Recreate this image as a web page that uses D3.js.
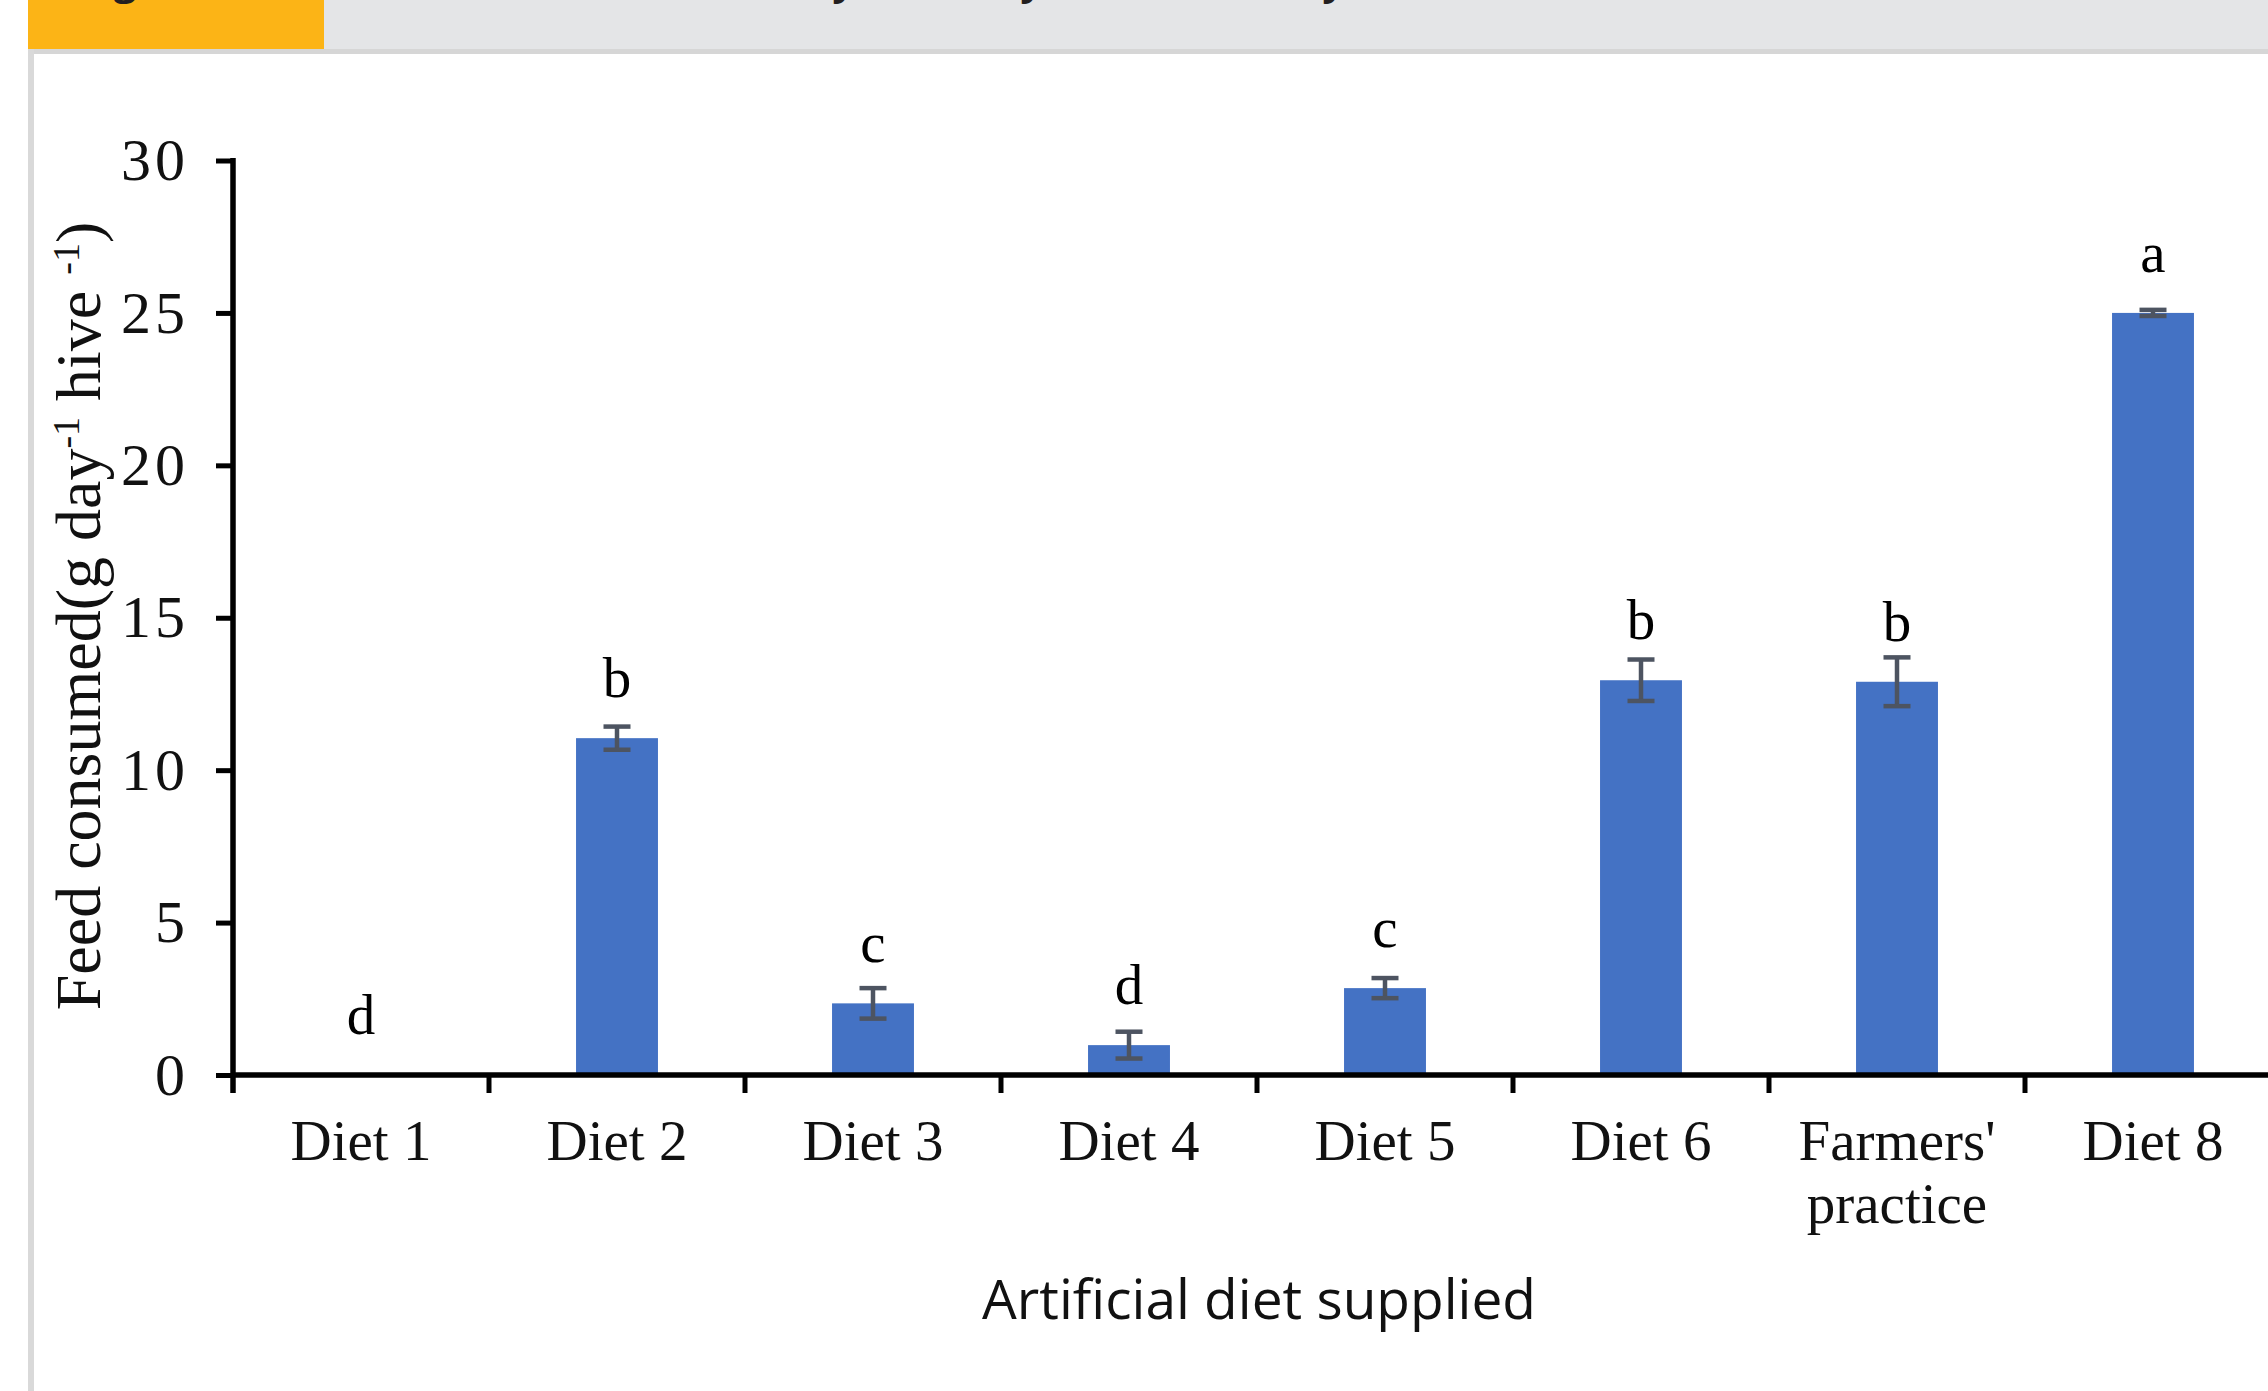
<!DOCTYPE html>
<html>
<head>
<meta charset="utf-8">
<script src="https://cdn.jsdelivr.net/npm/d3@7"></script>
<style>
  body { margin: 0; background: #fff; }
  svg { display: block; }
</style>
</head>
<body>
<div id="visualization"></div>
<script>
const categories = ['Diet 1', 'Diet 2', 'Diet 3', 'Diet 4', 'Diet 5', 'Diet 6', "Farmers' practice", 'Diet 8'];
const values = [0, 11.05, 2.35, 0.98, 2.85, 12.95, 12.9, 25.0];
const errors = [0, 0.38, 0.5, 0.44, 0.33, 0.68, 0.8, 0.1];
const letters = ['d', 'b', 'c', 'd', 'c', 'b', 'b', 'a'];
const yTicks = [0, 5, 10, 15, 20, 25, 30];

const W = 2268, H = 1391;
const serif = '"Liberation Serif", "Times New Roman", serif';

const svg = d3.select('#visualization').append('svg')
    .attr('width', W)
    .attr('height', H);

// page frame: header strip, separator, left border
svg.append('rect').attr('x', 324).attr('y', 0).attr('width', W - 324).attr('height', 49).attr('fill', '#e4e5e7');
svg.append('rect').attr('x', 28).attr('y', 0).attr('width', 296).attr('height', 49).attr('fill', '#fcb416');
svg.append('rect').attr('x', 28).attr('y', 49).attr('width', W - 28).attr('height', 5).attr('fill', '#d6d6d6');
svg.append('rect').attr('x', 28).attr('y', 49).attr('width', 6).attr('height', H - 49).attr('fill', '#d9d9d9');

// header text is cut off at the top in the source, only descenders show
svg.append('text').attr('x', 125).attr('y', -5)
    .attr('text-anchor', 'middle')
    .style('font', 'bold 40px "Open Sans", sans-serif').attr('fill', '#231f20').text('g');
[841, 1029, 1331].forEach(xp => {
    svg.append('text').attr('x', xp + 6).attr('y', -5)
        .attr('text-anchor', 'middle')
        .style('font', 'italic bold 40px "Open Sans", sans-serif').attr('fill', '#231f20').text('y');
});

// scales
const x0 = 233, step = 256;
const xCat = d3.scaleBand()
    .domain(categories)
    .range([x0, x0 + step * categories.length]);
const xBar = d3.scaleBand()
    .domain(categories)
    .range([x0, x0 + step * categories.length])
    .paddingInner(0.68)
    .paddingOuter(0.34);
const y = d3.scaleLinear()
    .domain([0, 30])
    .range([1075, 160.5]);

// bars
svg.append('g').selectAll('rect')
    .data(categories)
    .join('rect')
    .attr('x', d => xBar(d))
    .attr('y', (d, i) => y(values[i]))
    .attr('width', xBar.bandwidth())
    .attr('height', (d, i) => y(0) - y(values[i]))
    .attr('fill', '#4472c4');

// error bars
const capW = 27;
const eb = svg.append('g')
    .attr('stroke', '#4d5461')
    .attr('stroke-width', 4.5);
categories.forEach((c, i) => {
    if (values[i] <= 0) return;
    const cx = xBar(c) + xBar.bandwidth() / 2;
    const top = y(values[i] + errors[i]);
    const bot = y(values[i] - errors[i]);
    eb.append('line').attr('x1', cx).attr('x2', cx).attr('y1', top).attr('y2', bot);
    eb.append('line').attr('x1', cx - capW / 2).attr('x2', cx + capW / 2).attr('y1', top).attr('y2', top);
    eb.append('line').attr('x1', cx - capW / 2).attr('x2', cx + capW / 2).attr('y1', bot).attr('y2', bot);
});

// significance letters
svg.append('g').selectAll('text')
    .data(categories)
    .join('text')
    .attr('x', d => xBar(d) + xBar.bandwidth() / 2)
    .attr('y', (d, i) => y(values[i]) - 41)
    .attr('text-anchor', 'middle')
    .style('font-family', serif)
    .style('font-size', '57px')
    .attr('fill', '#000')
    .text((d, i) => letters[i]);

// y axis
const yAxis = svg.append('g')
    .attr('transform', `translate(${x0},0)`)
    .call(d3.axisLeft(y).tickValues(yTicks).tickSize(17).tickSizeOuter(0).tickPadding(31));
yAxis.select('.domain').remove();
yAxis.selectAll('.tick line').attr('stroke', '#000').attr('stroke-width', 5);
yAxis.selectAll('.tick text')
    .style('font-family', serif)
    .style('font-size', '60px')
    .style('letter-spacing', '4px')
    .attr('dx', 4)
    .attr('fill', '#111');
yAxis.append('line')
    .attr('x1', 0).attr('x2', 0)
    .attr('y1', y(30) - 2.5).attr('y2', y(0) + 18)
    .attr('stroke', '#000').attr('stroke-width', 5.5);

// x axis: line, boundary ticks, labels
const xAxis = svg.append('g');
xAxis.append('line')
    .attr('x1', x0).attr('x2', W)
    .attr('y1', y(0)).attr('y2', y(0))
    .attr('stroke', '#000').attr('stroke-width', 5.5);
const bounds = categories.map(c => xCat(c)).slice(1);
xAxis.selectAll('.bound')
    .data(bounds)
    .join('line')
    .attr('class', 'bound')
    .attr('x1', d => d).attr('x2', d => d)
    .attr('y1', y(0)).attr('y2', y(0) + 18)
    .attr('stroke', '#000').attr('stroke-width', 5);

const xLabels = xAxis.selectAll('.xlab')
    .data(categories)
    .join('text')
    .attr('class', 'xlab')
    .attr('x', d => xCat(d) + xCat.bandwidth() / 2)
    .attr('y', 1160)
    .attr('text-anchor', 'middle')
    .style('font-family', serif)
    .style('font-size', '57px')
    .attr('fill', '#111');
xLabels.each(function(d) {
    const t = d3.select(this);
    const cx = xCat(d) + xCat.bandwidth() / 2;
    const parts = d === "Farmers' practice" ? ["Farmers'", 'practice'] : [d];
    parts.forEach((p, k) => {
        t.append('tspan').attr('x', cx).attr('dy', k === 0 ? 0 : 63).text(p);
    });
});

// axis titles
const yTitle = svg.append('text')
    .attr('transform', 'translate(100,616) rotate(-90)')
    .attr('text-anchor', 'middle')
    .style('font-family', serif)
    .style('font-size', '64px')
    .attr('fill', '#111');
yTitle.append('tspan').text('Feed consumed(g day');
yTitle.append('tspan').attr('baseline-shift', 'super').style('font-size', '38px').text('-1');
yTitle.append('tspan').text(' hive ');
yTitle.append('tspan').attr('baseline-shift', 'super').style('font-size', '38px').text('-1');
yTitle.append('tspan').text(')');

svg.append('text')
    .attr('x', 1259)
    .attr('y', 1319)
    .attr('text-anchor', 'middle')
    .style('font-family', '"Open Sans", sans-serif')
    .style('font-size', '55px')
    .attr('fill', '#111')
    .text('Artificial diet supplied');
</script>
</body>
</html>
